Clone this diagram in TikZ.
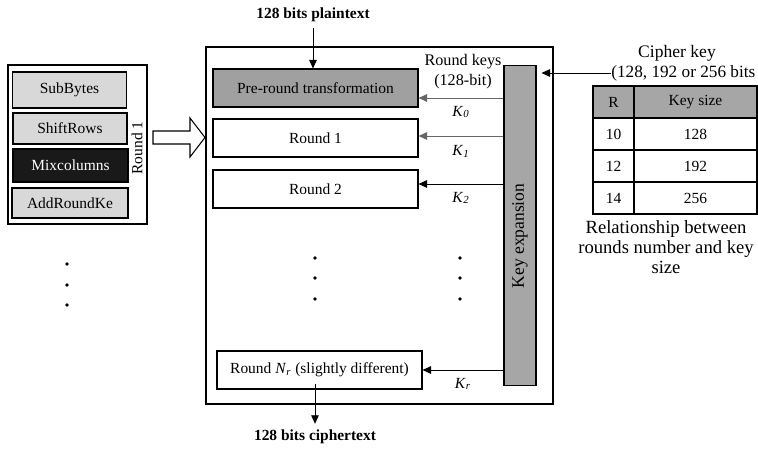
\documentclass[tikz,border=0pt]{standalone}
\usepackage{fontspec}
\setmainfont{Liberation Serif}
\usepackage{xcolor}
\usetikzlibrary{arrows.meta}
\definecolor{opgray}{HTML}{D8D8D8}
\definecolor{keygray}{HTML}{A6A6A6}
\definecolor{pregray}{HTML}{A0A0A0}
\newcommand{\kidx}[2]{\textit{#1}\textsubscript{\textit{#2}}}
\tikzset{
  stage/.style={draw, line width=0.6pt, minimum width=4.1cm, minimum height=0.76cm, inner sep=0pt},
  op/.style={draw, line width=0.6pt, fill=opgray, minimum width=2.28cm, inner sep=0pt},
  keyarr/.style={-{Triangle[length=1.7mm, width=1.5mm]}, line width=0.5pt},
  vdot/.style={circle, fill, inner sep=0pt, minimum size=2.2pt},
}

\begin{document}
\begin{tikzpicture}[x=0.02cm, y=-0.02cm, font=\fontsize{8.8}{10}\selectfont]
  \useasboundingbox (0,0) rectangle (758,450);

  % one round, step by step
  \draw[line width=0.6pt] (8,65) rectangle (147,224);
  \node[op, minimum height=0.72cm] (subb) at (69.5,90) {SubBytes};
  \node[op, minimum height=0.62cm] (shiftr) at (70,128.5) {ShiftRows};
  \node[op, fill=black!90, text=white, minimum height=0.66cm, minimum width=2.3cm] (mixc) at (70.5,165.5) {Mixcolumns};
  \node[op, minimum height=0.6cm, minimum width=2.32cm] (addrk) at (70,203) {AddRoundKe};
  \node[rotate=90] (rone) at (137,148) {Round 1};
  \foreach \y in {264,285,305}
    \node[vdot] (ld\y) at (67,\y) {};

  % hollow arrow into the cipher
  \draw[line width=0.6pt] (153,131) -- (190,131) -- (190,118) -- (205,137.5)
    -- (190,157) -- (190,144) -- (153,144) -- cycle;

  % the cipher
  \draw[line width=0.6pt] (206,47) rectangle (553,404);
  \node[font=\fontsize{8.8}{10}\selectfont\bfseries] (plain) at (313,15) {128 bits plaintext};
  \node[stage, fill=pregray] (pre) at (315.5,88) {Pre-round transformation};
  \node[stage] (round1) at (315.5,138) {Round 1};
  \node[stage] (round2) at (315.5,189) {Round 2};
  \node[stage] (roundN) at (319.5,370) {Round \kidx{N}{r} (slightly different)};
  \node[font=\fontsize{8.8}{10}\selectfont\bfseries] (cipher) at (315,437) {128 bits ciphertext};
  \foreach \y in {258,278,299} {
    \node[vdot] (md\y) at (315,\y) {};
    \node[vdot] (rd\y) at (460,\y) {};
  }

  \draw[keyarr] (plain.south) -- (plain.south |- pre.north);
  \draw[keyarr] ([yshift=0.12cm]roundN.south -| cipher) -- (cipher.north);

  % key schedule
  \node[draw, line width=0.6pt, fill=keygray, minimum width=0.64cm, minimum height=6.42cm] (keyexp) at (520,225.5) {};
  \node[rotate=90, font=\fontsize{10}{11}\selectfont] (keytxt) at (520,236) {Key expansion};
  \node[align=center, font=\fontsize{9.2}{11.4}\selectfont] (rkeys) at (463,72) {Round keys\\(128-bit)};

  \draw[keyarr, draw=black!60] ([yshift=-0.2cm]keyexp.west |- pre.east) -- ([yshift=-0.2cm]pre.east)
    node[midway, below=1pt] (k0) {\kidx{K}{0}};
  \draw[keyarr, draw=black!60] ([yshift=0.04cm]keyexp.west |- round1.east) -- ([yshift=0.04cm]round1.east)
    node[midway, below=2pt] (k1) {\kidx{K}{1}};
  \draw[keyarr] ([yshift=0.1cm]keyexp.west |- round2.east) -- ([yshift=0.1cm]round2.east)
    node[midway, below=1pt] (k2) {\kidx{K}{2}};
  \draw[keyarr] (keyexp.west |- roundN.east) -- (roundN.east)
    node[midway, below=1pt] (kr) {\kidx{K}{r}};

  % cipher key and the rounds table
  \node[font=\fontsize{10}{11}\selectfont] (ckey) at (677,53) {Cipher key};
  \node[anchor=west, inner sep=0pt, font=\fontsize{9.8}{11}\selectfont] (csize) at (611,73) {(128, 192 or 256 bits};
  \draw[keyarr] (csize.west) -- ([xshift=0.1cm]keyexp.east |- csize.west);

  \fill[keygray] (593,86) rectangle (757,118);
  \draw[line width=0.6pt] (593,86) rectangle (757,214);
  \draw[line width=0.6pt] (593,118) -- (757,118);
  \draw[line width=1.2pt] (593,150) -- (757,150);
  \draw[line width=1.2pt] (593,182) -- (757,182);
  \draw[line width=0.6pt] (634,86) -- (634,214);
  \node (hr) at (613.5,102) {R};
  \node (hsize) at (695.5,102) {Key size};
  \node (r10) at (613.5,134) {10};
  \node (s10) at (695.5,134) {128};
  \node (r12) at (613.5,166) {12};
  \node (s12) at (695.5,166) {192};
  \node (r14) at (613.5,198) {14};
  \node (s14) at (695.5,198) {256};
  \node[align=center, font=\fontsize{10.6}{11.4}\selectfont] (rel) at (666,247)
    {Relationship between\\rounds number and key\\size};
\end{tikzpicture}
\end{document}
